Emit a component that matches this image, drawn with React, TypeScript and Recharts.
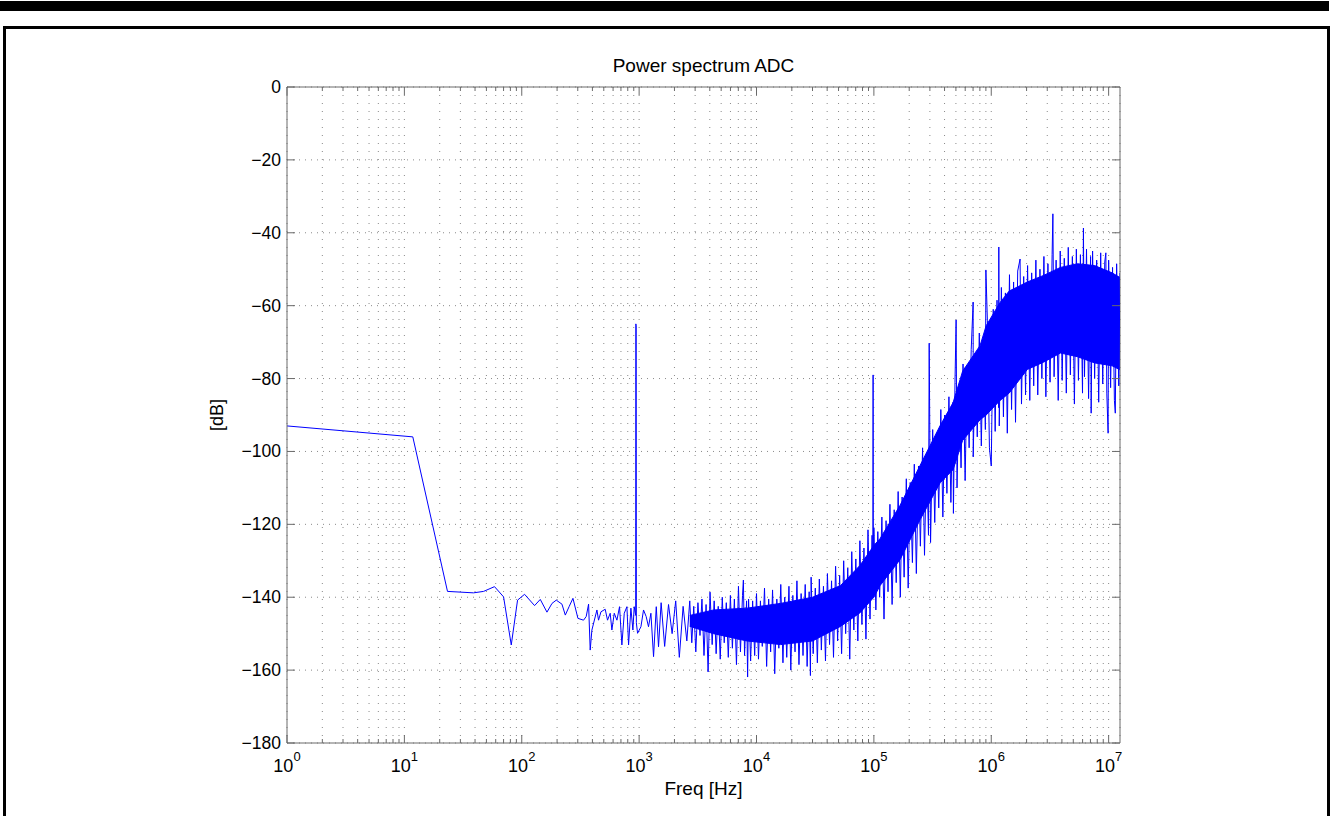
import React from 'react';
import { ComposedChart, Line, Area, XAxis, YAxis, CartesianGrid, ReferenceLine } from 'recharts';

// ---- main trace (frequency in Hz, power in dB) ----
const traceFreq = [
  1, 11.8, 23.3, 38.8, 47.3, 58.6, 70, 81.4, 92.1, 105.7, 128.6, 143.8, 164, 181, 196.8, 220, 235, 253, 273, 301,
  336, 354, 371, 383, 396, 437, 451, 473, 514, 538, 567, 586, 614, 647, 681, 713, 747, 787, 813, 851,
  885, 908, 935, 938, 943, 947, 970, 1036, 1090, 1148, 1202, 1260, 1327, 1400, 1463,
  1540, 1650, 1780, 1910, 2050, 2200, 2370, 2550,
  2700, 2810, 2920, 3040, 3170, 3300, 3430, 3570, 3720, 3870, 4020, 4190, 4360, 4530, 4720, 4910, 5110, 5310, 5530,
  5750, 5990, 6230, 6480, 6750, 7020, 7300, 7600, 7730, 7910, 8230, 8400, 8560, 8910, 9270, 9650,
  10000, 10400, 10800, 11200, 11700, 12200, 12700, 13200, 13700, 14300, 14900, 15500, 16100, 16800, 17400, 18100,
  18900, 19600, 20400, 21300, 22100, 23000, 24000, 24900, 26000, 27000, 28100, 28800, 29200, 30400, 31700, 33000,
  34300, 35700, 37200, 38700, 40200, 41900, 43600, 45300, 47200, 49100, 51100, 53100, 55300, 57500, 59900, 62300,
  64800, 67500, 70200, 73000, 76000, 79100, 82300, 85600, 89100, 92700, 96500, 98000, 98500, 99000,
  100000, 104000, 108000, 112000, 117000, 122000, 127000, 132000, 137000, 143000, 149000, 155000, 161000, 168000,
  174000, 181000, 189000, 196000, 204000, 213000, 221000, 230000, 240000, 249000, 260000, 270000, 281000, 292000,
  296000, 304000, 317000, 330000, 343000, 357000, 372000, 387000, 402000, 419000, 436000, 453000, 472000, 476000,
  491000, 502000, 511000, 531000, 553000, 575000, 599000, 623000, 648000, 675000, 701000, 702000, 730000, 760000,
  791000, 823000, 856000, 891000, 900000, 927000, 965000,
  1000000, 1040000, 1080000, 1120000, 1155000, 1160000, 1170000, 1220000, 1270000, 1320000, 1370000, 1430000,
  1490000, 1550000, 1610000, 1680000, 1760000, 1810000, 1890000, 1960000, 2040000, 2130000, 2210000, 2300000,
  2400000, 2490000, 2600000, 2700000, 2810000, 2920000, 3040000, 3170000, 3300000, 3350000, 3430000, 3570000,
  3720000, 3870000, 4020000, 4190000, 4360000, 4530000, 4720000, 4910000, 5110000, 5310000, 5530000, 5750000,
  5990000, 6100000, 6230000, 6480000, 6750000, 7020000, 7100000, 7300000, 7600000, 7910000, 8230000, 8560000,
  8910000, 9270000, 9470000, 9650000, 9900000, 10000000, 10400000, 10800000, 11200000, 11400000, 11700000,
  12200000, 12500000,
];
const traceDb = [
  -93.0, -96.0, -138.4, -138.8, -138.4, -137.1, -139.9, -153.1, -140.8, -139.2, -142.3, -140.6, -144.1, -141.7, -140.8, -141.9, -144.9, -142.6, -140.3, -145.8,
  -146.3, -145.3, -141.9, -154.5, -149.0, -143.5, -146.3, -144.0, -143.3, -146.3, -144.4, -149.0, -144.4, -146.3, -142.6, -153.1, -144.4, -142.6, -153.1, -143.0,
  -149.0, -142.6, -145.0, -65.0, -65.5, -147.0, -149.9, -148.1, -143.5, -145.3, -148.1, -144.4, -156.3, -142.6, -153.6,
  -141.5, -153.5, -142.0, -150.0, -141.0, -156.5, -142.5, -152.0,
  -141.0, -152.5, -142.5, -155.0, -141.5, -150.5, -140.5, -156.0, -142.0, -160.5, -138.6, -153.0, -141.0, -155.5, -142.5, -157.0, -140.0, -152.5, -141.5,
  -156.5, -139.5, -154.0, -140.5, -158.5, -137.0, -155.0, -139.5, -135.3, -156.0, -141.0, -161.9, -140.5, -157.5, -141.0, -156.0,
  -139.0, -157.0, -141.0, -153.5, -137.5, -159.0, -140.5, -155.0, -138.0, -161.0, -140.5, -154.0, -136.5, -158.0, -140.0, -156.5,
  -137.0, -160.0, -139.5, -155.0, -135.5, -158.5, -139.0, -156.0, -136.5, -159.0, -138.5, -161.5, -134.5, -155.5, -137.5, -158.0,
  -135.0, -154.5, -137.0, -157.5, -133.5, -153.0, -135.5, -156.5, -131.5, -152.0, -134.0, -155.5, -130.0, -150.0, -132.0, -157.0,
  -127.5, -149.0, -129.5, -152.0, -124.5, -147.5, -126.5, -151.5, -121.5, -146.0, -123.0, -133.0, -79.0, -140.0,
  -121.0, -143.5, -122.0, -140.0, -118.0, -146.0, -119.0, -138.5, -114.5, -142.0, -116.0, -136.0, -111.0, -140.0,
  -112.5, -134.5, -107.5, -137.5, -108.5, -130.5, -103.5, -133.5, -104.0, -126.0, -99.0, -128.5, -100.5, -123.0,
  -70.3, -125.0, -94.0, -119.5, -95.0, -115.5, -88.5, -118.0, -90.0, -111.5, -85.0, -114.0, -86.5, -117.0,
  -81.0, -63.9, -110.0, -82.5, -104.5, -76.0, -108.0, -77.5, -99.0, -72.0, -59.0, -101.5, -73.5, -96.0,
  -67.5, -98.5, -69.0, -94.0, -50.2, -64.0, -99.0,
  -104.0, -61.0, -94.5, -58.5, -88.0, -43.9, -93.0, -55.0, -90.5, -56.5, -95.0, -51.5,
  -88.5, -53.5, -92.0, -50.5, -47.2, -87.0, -52.0, -84.5, -49.0, -86.0, -51.0, -82.0,
  -47.5, -84.5, -50.0, -80.0, -46.5, -85.0, -48.5, -81.0, -46.0, -34.8, -79.5, -47.5,
  -86.0, -45.0, -80.5, -47.0, -84.0, -44.0, -79.0, -46.5, -87.0, -44.5, -80.5, -46.0,
  -84.0, -38.7, -79.5, -44.5, -85.5, -46.5, -89.5, -45.0, -80.0, -47.5, -86.5, -45.5,
  -81.5, -48.0, -45.5, -84.0, -95.0, -47.5, -82.5, -49.5, -86.0, -89.5, -48.5,
  -82.0, -51.0,
];

// ---- dense noise band (core of the solid region) ----
const bandFreq = [2700, 4300, 8300, 16000, 30000, 52000, 76000, 100000, 113000, 167000, 248000, 367000, 473000, 570000, 804000, 905000, 1190000, 1420000, 2030000, 2790000, 3890000, 5420000, 7600000, 10700000, 12500000];
const bandHigh = [-145.0, -143.5, -143.0, -141.7, -140.0, -136.8, -131.3, -125.8, -123.9, -114.8, -103.8, -92.9, -86.6, -78.0, -70.9, -65.5, -59.1, -56.0, -53.5, -51.7, -49.5, -48.5, -49.0, -51.0, -52.3];
const bandLow = [-148.0, -150.0, -152.0, -153.0, -152.0, -148.0, -144.3, -140.0, -136.8, -129.7, -118.7, -108.6, -105.0, -97.0, -91.3, -90.0, -86.0, -84.0, -77.5, -75.5, -73.0, -74.0, -75.7, -76.5, -77.6];

// ---- axes ----
const xMajorTicks = [1, 10, 100, 1000, 10000, 100000, 1000000, 10000000];
const xMinorSteps = [2, 3, 4, 5, 6, 7, 8, 9];
const yTicks = [0, -20, -40, -60, -80, -100, -120, -140, -160, -180];
const xDomain = [1, 12500000];
const yDomain = [-180, 0];

const titleText = 'Power spectrum ADC';
const xLabelText = 'Freq [Hz]';
const yLabelText = '[dB]';

// ---- layout ----
const W = 1333;
const H = 816;
const Y_AXIS_W = 60;
const X_AXIS_H = 40;
const PLOT_LEFT = 287;
const PLOT_TOP = 87;
const PLOT_RIGHT = 1120;
const PLOT_BOTTOM = 743;
const M = { top: PLOT_TOP, right: W - PLOT_RIGHT, bottom: H - PLOT_BOTTOM - X_AXIS_H, left: PLOT_LEFT - Y_AXIS_W };
const PLOT_W = PLOT_RIGHT - PLOT_LEFT;
const PLOT_H = PLOT_BOTTOM - PLOT_TOP;
const AX = '#6a6a6a';
const FONT = '"Liberation Sans", Arial, Helvetica, sans-serif';
const BLUE = '#0000ff';

const xTicks = [
  ...xMajorTicks,
  ...xMajorTicks.slice(0, -1).flatMap((d) => xMinorSteps.map((s) => s * d)),
].sort((a, b) => a - b);

const traceData = traceFreq.map((f, i) => ({ f, db: traceDb[i] }));
const bandData = bandFreq.map((f, i) => ({ f, range: [bandLow[i], bandHigh[i]] }));

const isMajor = (v: number) => xMajorTicks.some((m) => Math.abs(m - v) < 1e-6 * m);

const XTick = (props: any) => {
  const { x, y, payload } = props;
  const v = payload.value;
  const major = isMajor(v);
  const len = major ? 8 : 4;
  const exp = Math.round(Math.log10(v));
  return (
    <g>
      <line x1={x} x2={x} y1={y} y2={y - len} stroke={AX} strokeWidth={1} />
      <line x1={x} x2={x} y1={y - PLOT_H} y2={y - PLOT_H + len} stroke={AX} strokeWidth={1} />
      {major && (
        <text x={x} y={y + 29} textAnchor="middle" fontSize={18} fontFamily={FONT} fill="#000">
          10
          <tspan dy={-11} fontSize={13}>{exp}</tspan>
        </text>
      )}
    </g>
  );
};

const YTick = (props: any) => {
  const { x, y, payload } = props;
  const v = payload.value as number;
  const label = v < 0 ? '\u2212' + Math.abs(v) : String(v);
  return (
    <g>
      <line x1={x} x2={x + 8} y1={y} y2={y} stroke={AX} strokeWidth={1} />
      <line x1={x + PLOT_W} x2={x + PLOT_W - 8} y1={y} y2={y} stroke={AX} strokeWidth={1} />
      <text x={x - 6} y={y + 6} textAnchor="end" fontSize={17.5} fontFamily={FONT} fill="#000">
        {label}
      </text>
    </g>
  );
};

export default function App() {
  return (
    <div style={{ position: 'absolute', left: 0, top: 0, width: W, height: H, overflow: 'hidden', background: '#fff' }}>
      <svg width={W} height={H} style={{ position: 'absolute', left: 0, top: 0 }}>
        <rect x={0} y={1} width={1329} height={10} fill="#000" />
        <rect x={4.5} y={27.5} width={1324} height={820} fill="none" stroke="#000" strokeWidth={3} />
      </svg>
      <div style={{ position: 'absolute', left: 0, top: 0 }}>
        <ComposedChart width={W} height={H} margin={M}>
          <CartesianGrid horizontal={true} vertical={false} stroke="#8a8a8a" strokeDasharray="1 5" />
          <CartesianGrid horizontal={false} vertical={true} stroke="#8a8a8a" strokeDasharray="1 7" />
          <XAxis
            dataKey="f"
            type="number"
            scale="log"
            domain={xDomain}
            ticks={xTicks}
            interval={0}
            allowDataOverflow
            height={X_AXIS_H}
            tickSize={0}
            tickMargin={0}
            tickLine={false}
            axisLine={{ stroke: AX }}
            tick={(p: any) => <XTick {...p} />}
          />
          <YAxis
            type="number"
            domain={yDomain}
            ticks={yTicks}
            interval={0}
            allowDataOverflow
            width={Y_AXIS_W}
            tickSize={0}
            tickMargin={0}
            tickLine={false}
            axisLine={{ stroke: AX }}
            tick={(p: any) => <YTick {...p} />}
          />
          <ReferenceLine y={0} stroke={AX} />
          <ReferenceLine x={12500000} stroke={AX} />
          <Area
            data={bandData}
            dataKey="range"
            type="linear"
            fill={BLUE}
            fillOpacity={1}
            stroke={BLUE}
            strokeWidth={1}
            isAnimationActive={false}
            dot={false}
            activeDot={false}
          />
          <Line
            data={traceData}
            dataKey="db"
            type="linear"
            stroke={BLUE}
            strokeWidth={1}
            dot={false}
            activeDot={false}
            isAnimationActive={false}
          />
        </ComposedChart>
      </div>
      <svg width={W} height={H} style={{ position: 'absolute', left: 0, top: 0, pointerEvents: 'none' }}>
        <text x={703.5} y={72} textAnchor="middle" fontSize={19} fontFamily={FONT} fill="#000">{titleText}</text>
        <text x={703.5} y={795} textAnchor="middle" fontSize={19} fontFamily={FONT} fill="#000">{xLabelText}</text>
        <text x={223} y={415} textAnchor="middle" fontSize={18} fontFamily={FONT} fill="#000" transform="rotate(-90 223 415)">{yLabelText}</text>
      </svg>
    </div>
  );
}
